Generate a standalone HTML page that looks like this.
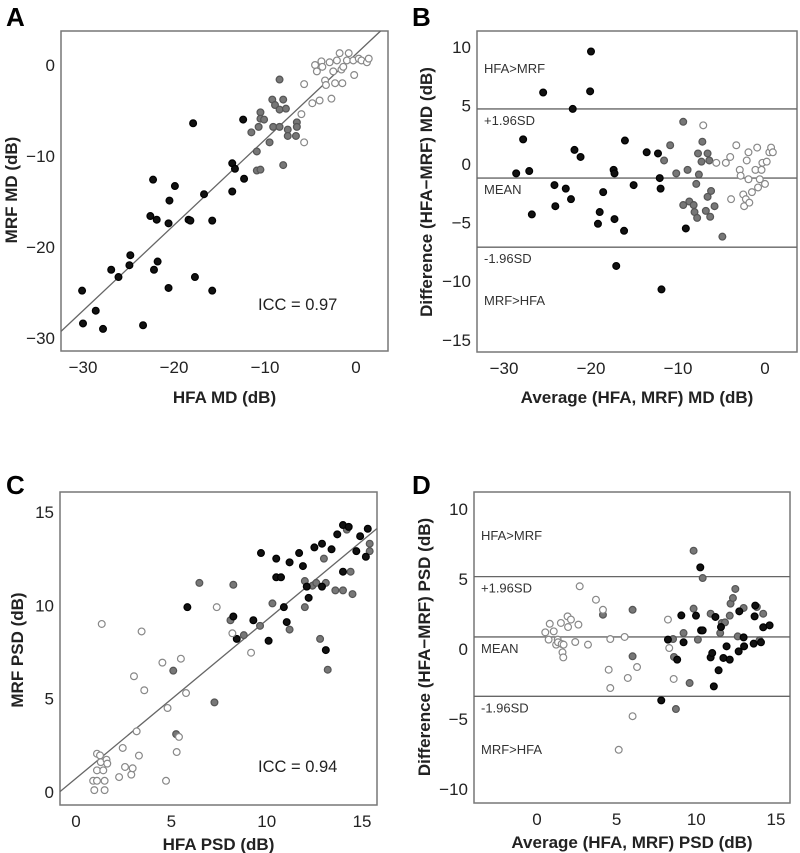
<!DOCTYPE html>
<html><head><meta charset="utf-8">
<style>
html,body{margin:0;padding:0;background:#fff;}
svg{display:block;font-family:"Liberation Sans",sans-serif;}
.tick{font-size:17px;fill:#222;}
.ttl{font-size:17px;font-weight:bold;fill:#222;}
.ann{font-size:13px;fill:#333;}
.lbl{font-size:26px;font-weight:bold;fill:#000;}
</style></head>
<body>
<svg id="fig" width="800" height="853" viewBox="0 0 800 853"></svg>
<script>
// Panel A: HFA MD vs MRF MD
const aBlackX=[-30.1,-30.0,-28.6,-27.8,-26.9,-26.1,-24.9,-24.8,-23.4,-22.6,-22.3,-22.2,-21.9,-21.8,-20.6,-20.5,-20.6,-19.9,-18.4,-18.2,-17.9,-17.7,-16.7,-15.8,-15.8,-13.6,-13.6,-13.3,-12.4,-12.3];
const aBlackY=[-24.8,-28.4,-27.0,-29.0,-22.5,-23.3,-22.0,-20.9,-28.6,-16.6,-12.6,-22.5,-17.0,-21.6,-17.4,-14.9,-24.5,-13.3,-17.0,-17.1,-6.4,-23.3,-14.2,-17.1,-24.8,-10.8,-13.9,-11.4,-6.0,-12.5];
const aGrayX=[-11.5,-10.9,-10.9,-10.5,-10.7,-10.5,-10.1,-10.5,-9.5,-9.2,-9.1,-8.9,-8.4,-8.4,-8.4,-8.0,-8.0,-7.7,-7.5,-7.5,-6.6,-6.5,-6.5];
const aGrayY=[-7.4,-11.6,-9.5,-5.2,-6.8,-5.9,-6.0,-11.5,-8.5,-3.8,-6.8,-4.4,-6.8,-1.6,-4.9,-3.8,-11.0,-4.8,-7.1,-7.8,-7.8,-6.3,-6.8];
const aOpenX=[-5.7,-6.0,-5.7,-4.8,-4.5,-4.3,-4.0,-3.8,-3.7,-3.4,-3.3,-2.9,-2.7,-2.5,-2.3,-2.1,-1.8,-1.6,-1.5,-1.0,-0.8,-0.3,-0.2,0.3,0.6,1.2,1.4,-1.4];
const aOpenY=[-2.1,-5.4,-8.5,-4.2,0,-0.7,-3.9,0.4,-0.2,-1.7,-2.2,0.3,-3.7,-0.7,-2.0,0.5,1.3,-0.5,-2.0,0.5,1.3,0.5,-1.1,0.7,0.5,0.3,0.7,-0.2];
const aXTicks=[-30,-20,-10,0];
const aYTicks=[0,-10,-20,-30];
const aFit=[0.94,1.2]; // slope, intercept
// Panel B: Bland-Altman MD
const bBlackX=[-28.6,-27.8,-27.1,-26.8,-25.5,-24.2,-24.1,-22.9,-22.3,-22.1,-21.9,-21.2,-20.1,-20.0,-19.2,-19.0,-18.6,-17.4,-17.3,-17.3,-17.1,-16.2,-16.1,-15.1,-13.6,-12.3,-12.1,-12.0,-11.9,-9.1];
const bBlackY=[-0.8,2.1,-0.6,-4.3,6.1,-1.8,-3.6,-2.1,-3.0,4.7,1.2,0.6,6.2,9.6,-5.1,-4.1,-2.4,-0.5,-0.8,-4.7,-8.7,-5.7,2.0,-1.8,1.0,0.9,-1.2,-2.1,-10.7,-5.5];
const bGrayX=[-11.6,-10.9,-10.2,-9.4,-9.4,-8.9,-8.7,-8.2,-8.1,-7.9,-7.8,-7.7,-7.6,-7.3,-7.2,-6.8,-6.6,-6.6,-6.4,-6.3,-6.2,-5.8,-4.9];
const bGrayY=[0.3,1.6,-0.8,3.6,-3.5,-0.5,-3.2,-3.5,-4.1,-1.7,-4.6,0.9,-0.9,0.2,1.9,-4.0,0.9,-2.8,0.3,-4.5,-2.3,-3.6,-6.2];
const bOpenX=[-7.1,-5.6,-4.5,-4.0,-3.9,-3.3,-2.9,-2.8,-2.5,-2.4,-2.2,-2.1,-1.9,-1.9,-1.8,-1.5,-1.1,-0.9,-0.8,-0.6,-0.4,-0.3,0,0.2,0.5,0.7,0.9];
const bOpenY=[3.3,0.1,0.1,0.6,-3.0,1.6,-0.5,-1.0,-2.6,-3.6,-3.0,0.3,-1.3,1.0,-3.3,-2.4,-0.5,1.4,-2.0,-1.3,-0.5,0.1,-1.7,0.2,1.0,1.4,1.0];
const bXTicks=[-30,-20,-10,0];
const bYTicks=[10,5,0,-5,-10,-15];
const bLimits=[4.7,-1.2,-7.1];
// Panel C: PSD
const cBlackX=[5.84,8.25,8.43,9.3,9.7,10.1,10.5,10.5,10.75,10.9,11.05,11.2,11.7,11.9,12.2,12.1,12.5,12.9,12.9,13.1,13.4,13.7,14.0,14.0,14.3,14.7,14.9,15.2,15.3];
const cBlackY=[9.9,9.4,8.2,9.2,12.8,8.1,12.5,11.5,11.5,9.9,9.1,12.3,12.8,12.1,10.4,11.0,13.1,11.0,13.3,7.6,13.0,13.8,11.8,14.3,14.2,12.9,13.7,12.6,14.1];
const cGrayX=[6.47,5.1,5.25,7.26,8.1,8.25,8.8,9.65,10.3,11.2,12.0,12.0,12.4,12.6,12.8,13.0,13.1,13.2,13.6,14.0,14.2,14.4,14.5,15.4,15.4];
const cGrayY=[11.2,6.5,3.1,4.8,9.2,11.1,8.4,8.9,10.1,8.7,9.9,11.3,11.05,11.2,8.2,12.5,11.2,6.55,10.8,10.8,14.05,11.8,10.6,12.9,13.3];
const cOpenX=[0.96,0.9,1.1,1.1,1.1,1.35,1.26,1.3,1.43,1.5,1.5,1.6,1.64,2.26,2.45,2.57,2.9,2.97,3.04,3.18,3.3,3.44,3.58,4.53,4.72,4.8,5.28,5.4,5.5,5.77,7.38,8.2,9.18];
const cOpenY=[0.1,0.6,0.6,2.05,1.16,9.0,1.96,1.6,1.16,0.6,0.1,1.73,1.52,0.8,2.36,1.34,0.93,1.27,6.2,3.25,1.95,8.6,5.45,6.93,0.6,4.5,2.14,2.95,7.14,5.3,9.9,8.5,7.46];
const cXTicks=[0,5,10,15];
const cYTicks=[15,10,5,0];
const cFit=[0.848,0.73];
// Panel D: Bland-Altman PSD
const dOpenX=[0.52,0.8,0.73,1.05,1.2,1.3,1.32,1.5,1.55,1.6,1.65,1.67,1.92,1.95,2.13,2.4,2.6,2.68,3.2,3.7,4.14,4.5,4.6,4.6,5.5,5.7,6.0,5.13,6.28,8.22,8.3,8.58];
const dOpenY=[1.19,1.8,0.67,1.26,0.31,0.67,0.48,1.86,0.36,-0.24,-0.6,0.31,2.33,1.57,2.1,0.5,1.74,4.48,0.31,3.52,2.8,-1.48,0.71,-2.79,0.86,-2.07,-4.8,-7.2,-1.29,2.1,0.07,-2.14];
const dGrayX=[4.14,6.0,6.0,8.54,8.6,8.72,9.2,9.58,9.83,9.83,10.1,10.4,10.9,11.5,11.6,11.8,12.1,12.15,12.3,12.45,12.6,12.97,13.8,13.97,14.2];
const dGrayY=[2.45,2.8,-0.52,0.71,-0.57,-4.29,1.14,-2.43,7.02,2.88,0.67,5.07,2.52,1.14,1.86,1.9,2.38,3.24,3.64,4.29,0.9,2.93,3.0,0.62,2.52];
const dBlackX=[7.8,8.22,8.8,9.06,9.2,9.98,10.25,10.3,10.4,10.9,11.0,11.1,11.2,11.4,11.55,11.7,11.9,12.1,12.7,12.66,13.0,12.97,13.66,13.6,13.7,14.06,14.2,14.6];
const dBlackY=[-3.67,0.67,-0.76,2.4,0.48,2.38,5.83,1.33,1.33,-0.6,-0.29,-2.67,2.29,-1.52,1.57,-0.64,0.19,-0.76,2.69,-0.17,0.19,0.83,2.33,0.38,3.1,0.48,1.55,1.69];
const dXTicks=[0,5,10,15];
const dYTicks=[10,5,0,-5,-10];
const dLimits=[5.17,0.86,-3.38];

const NS='http://www.w3.org/2000/svg';
const svg=document.getElementById('fig');
function mk(tag,attrs,parent,text){const e=document.createElementNS(NS,tag);for(const k in attrs)e.setAttribute(k,attrs[k]);if(text!==undefined)e.textContent=text;(parent||svg).appendChild(e);return e;}
function fmt(v){return v<0?'\u2212'+Math.abs(v):String(v);}

function panel(p){
  const g=mk('g',{});
  
  
  const X=v=>p.x0+p.xs*v, Y=v=>p.y0-p.ys*v;
  const box=mk('rect',{x:p.bx,y:p.by,width:p.bw,height:p.bh,fill:'none',stroke:'#777','stroke-width':1.5},g);
  
  
  const lab=mk('text',{x:p.lx,y:p.ly,class:'lbl'},g,p.id);
  
  
  p.xt.forEach(v=>{const t=mk('text',{x:X(v),y:p.by+p.bh+22,class:'tick','text-anchor':'middle'},g,fmt(v));
    
    });
  p.yt.forEach(v=>{const t=mk('text',{x:p.bx-6,y:Y(v)+6,class:'tick','text-anchor':'end'},g,fmt(v));
    
    });
  const xt=mk('text',{x:p.bx+p.bw/2,y:p.xty,class:'ttl','text-anchor':'middle'},g,p.xtitle);
  
  
  const yt=mk('text',{x:0,y:0,class:'ttl','text-anchor':'middle',transform:'translate('+p.ytx+','+p.yty+') rotate(-90)'},g,p.ytitle);
  
  
  if(p.fit){const x1=(p.bx-p.x0)/p.xs, x2=(p.bx+p.bw-p.x0)/p.xs;
    let xa=x1,xb=x2; const ymax=(p.y0-p.by)/p.ys;
    if(p.fit[0]*xb+p.fit[1]>ymax) xb=(ymax-p.fit[1])/p.fit[0];
    const l=mk('line',{x1:X(xa),y1:Y(p.fit[0]*xa+p.fit[1]),x2:X(xb),y2:Y(p.fit[0]*xb+p.fit[1]),stroke:'#666','stroke-width':1.3},g);
    
    
    const ic=mk('text',{x:p.iccx,y:p.iccy,style:'font-size:16.5px;fill:#222'},g,p.icc);
    
    }
  if(p.lim){const names=['upper-limit-line','mean-line','lower-limit-line'];
    p.lim.forEach((v,i)=>{const l=mk('line',{x1:p.bx,x2:p.bx+p.bw,y1:Y(v),y2:Y(v),stroke:'#666','stroke-width':1.3},g);
      
      });
    const ax=p.bx+7;
    const anns=[['HFA>MRF',p.hy],['+1.96SD',Y(p.lim[0])+16],['MEAN',Y(p.lim[1])+16],['-1.96SD',Y(p.lim[2])+16],['MRF>HFA',p.my]];
    anns.forEach(a=>{const t=mk('text',{x:ax,y:a[1],class:'ann'},g,a[0]);
      
      });}
  const groups=[[p.gx,p.gy,'#777','#555','gray-point'],[p.kx,p.ky,'#111','#000','black-point'],[p.ox,p.oy,'#fff','#888','open-point']];
  groups.forEach(gr=>{gr[0].forEach((v,i)=>{const c=mk('circle',{cx:X(v),cy:Y(gr[1][i]),r:3.4,fill:gr[2],stroke:gr[3],'stroke-width':1.2},g);
    
    });});
}
panel({id:'A',bx:61,by:31,bw:327,bh:320,x0:356,xs:9.1,y0:65,ys:9.1,lx:6,ly:26,xt:aXTicks,yt:aYTicks,xtitle:'HFA MD (dB)',xty:403,ytitle:'MRF MD (dB)',ytx:17,yty:190,fit:aFit,icc:'ICC = 0.97',iccx:258,iccy:310,kx:aBlackX,ky:aBlackY,gx:aGrayX,gy:aGrayY,ox:aOpenX,oy:aOpenY});
panel({id:'B',bx:477,by:31,bw:320,bh:321,x0:765,xs:8.7,y0:164,ys:11.72,lx:412,ly:26,xt:bXTicks,yt:bYTicks,xtitle:'Average (HFA, MRF) MD (dB)',xty:403,ytitle:'Difference (HFA\u2212MRF) MD (dB)',ytx:432,yty:192,lim:bLimits,hy:73,my:305,kx:bBlackX,ky:bBlackY,gx:bGrayX,gy:bGrayY,ox:bOpenX,oy:bOpenY});
panel({id:'C',bx:60,by:492,bw:317,bh:313,x0:76,xs:19.07,y0:792,ys:18.67,lx:6,ly:494,xt:cXTicks,yt:cYTicks,xtitle:'HFA PSD (dB)',xty:850,ytitle:'MRF PSD (dB)',ytx:23,yty:650,fit:cFit,icc:'ICC = 0.94',iccx:258,iccy:772,kx:cBlackX,ky:cBlackY,gx:cGrayX,gy:cGrayY,ox:cOpenX,oy:cOpenY});
panel({id:'D',bx:474,by:492,bw:316,bh:311,x0:537,xs:15.93,y0:649,ys:14.0,lx:412,ly:494,xt:dXTicks,yt:dYTicks,xtitle:'Average (HFA, MRF) PSD (dB)',xty:848,ytitle:'Difference (HFA\u2212MRF) PSD (dB)',ytx:430,yty:647,lim:dLimits,hy:540,my:754,kx:dBlackX,ky:dBlackY,gx:dGrayX,gy:dGrayY,ox:dOpenX,oy:dOpenY});
</script>
</body></html>
